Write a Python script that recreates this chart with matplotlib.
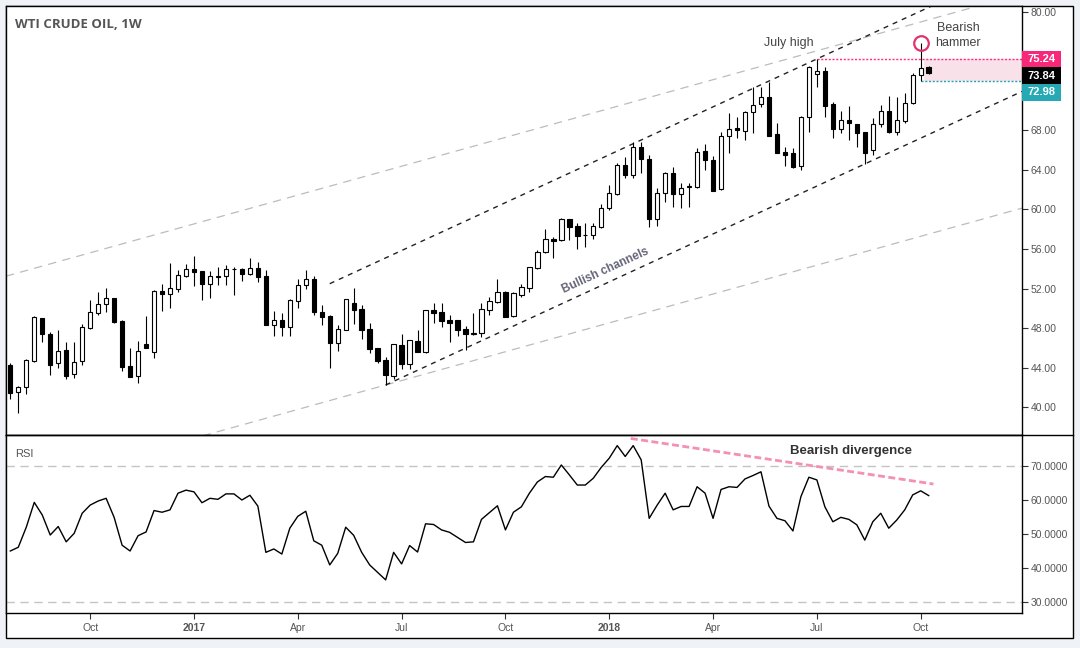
import numpy as np
import pandas as pd
import matplotlib
matplotlib.use("Agg")
import matplotlib.pyplot as plt
from matplotlib.patches import Rectangle
from matplotlib.lines import Line2D

plt.rcParams["font.family"] = ["Liberation Sans", "DejaVu Sans"]
plt.rcParams["lines.scale_dashes"] = False

# ----------------------------------------------------------------------
# --- Data (weekly WTI candles) ---
first_week = "2016-07-25"

opens = [44.25, 41.48, 41.99, 44.66, 49.01, 47.36, 44.42, 45.74, 43.31, 44.66,
         48.03, 49.55, 50.39, 51.00, 48.67, 44.15, 43.10, 46.34, 45.60, 51.71,
         51.48, 51.98, 53.30, 53.94, 53.74, 52.49, 53.21, 53.23, 53.98, 53.94,
         53.44, 54.04, 53.27, 48.34, 48.78, 48.14, 50.77, 52.32, 52.93, 49.66,
         49.22, 46.45, 47.84, 50.54, 49.89, 47.87, 45.94, 44.76, 43.14, 46.25,
         44.32, 46.69, 45.61, 49.83, 49.66, 48.81, 48.81, 47.87, 47.36, 47.53,
         49.82, 50.67, 51.68, 49.25, 51.34, 52.02, 54.11, 55.73, 56.98, 56.92,
         59.04, 58.33, 57.42, 57.42, 58.26, 60.12, 61.54, 64.50, 63.53, 66.33,
         65.08, 59.04, 61.64, 63.66, 61.54, 62.24, 62.31, 65.92, 65.01, 62.04,
         67.44, 68.25, 67.95, 69.91, 70.65, 71.43, 67.61, 65.79, 65.69, 64.44,
         69.33, 73.69, 74.03, 70.65, 68.12, 69.06, 68.62, 67.81, 66.03, 68.62,
         69.97, 67.88, 68.96, 70.75, 73.59, 74.40]
highs = [44.42, 42.13, 44.86, 49.21, 49.05, 47.56, 47.76, 46.55, 46.55, 48.37,
         50.83, 51.61, 52.01, 51.05, 48.77, 45.94, 46.68, 49.21, 51.88, 52.46,
         54.55, 53.87, 54.48, 55.29, 53.81, 53.74, 54.18, 54.38, 54.14, 54.04,
         55.09, 54.65, 53.87, 49.72, 49.52, 50.94, 52.93, 53.87, 53.27, 50.33,
         49.30, 48.27, 50.94, 52.05, 50.33, 48.48, 45.98, 45.10, 46.40, 47.36,
         46.80, 47.80, 49.86, 50.57, 50.50, 49.32, 48.85, 48.20, 49.49, 50.50,
         51.17, 52.93, 51.72, 51.68, 52.46, 54.21, 55.90, 57.99, 57.25, 59.10,
         59.08, 58.60, 58.60, 58.60, 60.56, 62.48, 64.67, 65.35, 66.87, 66.87,
         65.52, 62.14, 63.77, 64.34, 62.72, 62.65, 66.19, 66.63, 65.42, 67.88,
         69.74, 69.40, 70.01, 72.44, 72.44, 72.95, 68.72, 66.30, 66.19, 69.47,
         74.53, 75.24, 74.47, 70.92, 69.97, 70.48, 68.70, 67.85, 69.30, 70.58,
         71.49, 71.36, 71.77, 73.79, 76.90, 74.57]
lows = [40.77, 39.36, 41.28, 44.52, 46.61, 43.20, 43.98, 42.87, 42.97, 44.25,
        47.90, 49.31, 49.65, 48.47, 43.68, 43.00, 42.39, 45.95, 44.99, 49.76,
        50.06, 51.65, 53.20, 52.29, 50.84, 51.07, 52.36, 52.39, 51.38, 52.76,
        53.37, 52.66, 48.30, 47.19, 47.19, 47.19, 50.03, 51.92, 49.32, 48.31,
        43.92, 45.71, 47.80, 48.38, 46.92, 45.44, 44.43, 42.23, 42.81, 43.82,
        43.82, 45.58, 45.44, 48.54, 48.14, 46.62, 47.19, 45.77, 47.30, 47.10,
        49.32, 50.50, 49.12, 49.15, 51.10, 51.68, 53.94, 55.63, 55.05, 56.85,
        56.92, 55.97, 56.24, 56.98, 58.09, 59.95, 61.47, 63.16, 63.16, 63.66,
        58.26, 58.36, 60.79, 60.29, 60.12, 60.29, 62.14, 64.00, 61.85, 62.00,
        65.76, 67.21, 67.04, 67.78, 70.35, 67.40, 65.69, 64.41, 64.20, 64.00,
        67.88, 72.37, 69.40, 67.28, 67.78, 67.04, 66.37, 64.61, 65.52, 68.39,
        67.78, 67.54, 68.72, 70.69, 72.98, 73.69]
closes = [41.38, 41.99, 44.76, 49.11, 47.36, 44.22, 45.70, 43.17, 44.59, 48.07,
          49.58, 50.39, 51.03, 48.57, 44.08, 43.07, 45.63, 46.01, 51.74, 51.48,
          52.02, 53.33, 53.94, 53.71, 52.49, 53.23, 53.24, 53.98, 53.96, 53.44,
          54.04, 53.20, 48.34, 48.78, 48.14, 50.84, 52.36, 52.93, 49.66, 49.15,
          46.52, 47.87, 50.91, 49.86, 47.77, 45.91, 44.70, 43.21, 46.35, 44.32,
          46.75, 45.61, 49.83, 49.56, 48.75, 48.54, 47.80, 47.36, 47.53, 49.89,
          50.70, 51.68, 49.15, 51.58, 52.12, 54.14, 55.66, 56.98, 56.85, 59.04,
          58.26, 57.35, 57.38, 58.36, 60.12, 61.64, 64.47, 63.53, 66.33, 65.08,
          59.04, 61.64, 63.66, 61.54, 62.14, 62.38, 65.79, 65.01, 61.91, 67.44,
          68.12, 68.02, 69.91, 70.58, 71.43, 67.48, 65.76, 65.55, 64.27, 69.33,
          74.40, 73.99, 70.52, 68.15, 69.06, 68.73, 67.78, 65.69, 68.62, 69.94,
          67.85, 69.06, 70.75, 73.59, 74.29, 73.84]
rsi = [45.0, 46.1, 52.0, 59.3, 55.6, 49.7, 52.2, 47.7, 50.2, 56.1,
       58.5, 59.7, 60.5, 54.9, 46.7, 45.0, 49.5, 50.6, 56.9, 56.4,
       57.1, 62.0, 62.9, 62.4, 59.2, 60.5, 60.2, 61.8, 61.8, 60.0,
       61.4, 58.2, 44.6, 45.6, 44.1, 51.7, 55.2, 56.7, 48.0, 46.7,
       40.9, 44.3, 52.0, 49.6, 44.6, 40.9, 38.7, 36.5, 44.6, 41.2,
       46.6, 44.7, 53.0, 52.8, 51.2, 50.5, 49.0, 47.5, 47.7, 54.3,
       56.3, 58.3, 51.2, 56.4, 58.0, 62.0, 65.3, 66.9, 66.7, 70.3,
       67.4, 64.4, 64.4, 66.4, 69.6, 72.3, 76.0, 72.8, 76.0, 71.8,
       54.6, 58.5, 62.0, 57.1, 58.1, 58.1, 63.9, 62.0, 54.6, 63.1,
       63.9, 63.7, 66.2, 67.2, 68.3, 58.2, 54.6, 53.9, 50.9, 61.0,
       66.7, 65.9, 58.0, 53.6, 54.9, 54.3, 52.7, 48.2, 53.6, 56.1,
       51.7, 54.1, 57.1, 61.5, 62.7, 61.3]

price_ticks = [40, 44, 48, 52, 56, 60, 64, 68, 72, 76, 80]
rsi_ticks = [30, 40, 50, 60, 70]

# reference levels
july_high_bar = 101
hammer_bar = 114
july_high = highs[july_high_bar]
hammer_low = lows[hammer_bar]
last_close = closes[-1]

# channel anchors: lower line through two swing lows, upper parallel through July high
chan_low_a, chan_low_b = 47, 107
chan_upper_start = 40
outer_slope = 0.2247      # slope of the wide grey channel, price per week
outer_width = 21.7        # vertical distance between the grey lines

# RSI divergence line (bar index, RSI value)
div_start = (77.7, 78.1)
div_end = (115.6, 64.7)

dates = pd.date_range(first_week, periods=len(closes), freq="W-MON")
idx = np.arange(len(closes))

# ----------------------------------------------------------------------
# --- Layout ---
W, H = 1080, 648
fig = plt.figure(figsize=(W / 100, H / 100), dpi=100)
fig.patch.set_facecolor("#eff2f6")

left, right = 6, 1022
top, sep, bottom = 6, 435, 613
ax = fig.add_axes([left / W, 1 - sep / H, (right - left) / W, (sep - top) / H])
ax_r = fig.add_axes([left / W, 1 - bottom / H, (right - left) / W, (bottom - sep) / H])

fig.add_artist(Rectangle((6 / W, 1 - 638 / H), (1073 - 6) / W, (638 - 6) / H,
                         transform=fig.transFigure, facecolor="white",
                         edgecolor="black", lw=1, zorder=-5))
fig.add_artist(Line2D([6 / W, 1073 / W], [1 - sep / H] * 2, transform=fig.transFigure,
                      color="black", lw=1))

bar_px = 7.986
x0 = -(10.3 - left) / bar_px
x1 = (right - 10.3) / bar_px
for a in (ax, ax_r):
    a.set_xlim(x0, x1)
    a.set_facecolor("white")
    for s in a.spines.values():
        s.set_color("black")
        s.set_linewidth(1)
    a.yaxis.tick_right()
    a.tick_params(axis="y", direction="out", length=4, width=0.8, color="#333333",
                  labelsize=7.5, labelcolor="#555555", pad=2)

ax.set_ylim(37.17, 80.6)
ax_r.set_ylim(26.76, 79.12)

# ----------------------------------------------------------------------
# --- Price panel ---
xs = np.array([x0, x1])
slope = (lows[chan_low_b] - lows[chan_low_a]) / (chan_low_b - chan_low_a)

# wide grey channel
g_low = lows[chan_low_a] + outer_slope * (xs - chan_low_a)
ax.plot(xs, g_low, color="#bcbcbc", lw=0.9, dashes=(6, 4.5), zorder=1)
ax.plot(xs, g_low + outer_width, color="#bcbcbc", lw=0.9, dashes=(6, 4.5), zorder=1)

# black bullish channel
xl = np.array([chan_low_a, x1])
ax.plot(xl, lows[chan_low_a] + slope * (xl - chan_low_a), color="#222222", lw=1,
        dashes=(3.6, 3.6), zorder=1)
xu = np.array([chan_upper_start, x1])
ax.plot(xu, july_high + slope * (xu - july_high_bar), color="#222222", lw=1,
        dashes=(3.6, 3.6), zorder=1)

# hammer zone
body_w = 0.55
ax.fill_between([hammer_bar + 0.45, x1], hammer_low, july_high, color="#f9e1ea",
                lw=0, zorder=0.5)
ax.hlines(july_high, july_high_bar, x1, color="#ff2c82", lw=1, linestyles=(0, (1.5, 1.2)),
          zorder=1.5)
ax.hlines(hammer_low, hammer_bar, x1, color="#1ea6b6", lw=1, linestyles=(0, (1.5, 1.2)),
          zorder=1.5)

# candles
o = np.array(opens)
c = np.array(closes)
up = c >= o
ax.vlines(idx, lows, highs, color="black", lw=0.8, zorder=2)
ax.bar(idx, np.maximum(np.abs(c - o), 0.06), bottom=np.minimum(o, c), width=body_w,
       color=np.where(up, "white", "black"), edgecolor="black", linewidth=0.8, zorder=3)

# annotations
ax.plot(hammer_bar, highs[hammer_bar], marker="o", ms=10.5, mfc="none", mec="#e0336f",
        mew=1.6, zorder=4)
ax.text(97.45, 76.89, "July high", ha="center", va="center", fontsize=9, color="#444444")
ax.text(118.7, 77.62, "Bearish\nhammer", ha="center", va="center", fontsize=9,
        color="#444444", linespacing=1.25)

tx = 74.5
p0 = ax.transData.transform((tx - 5, 0))
p1 = ax.transData.transform((tx + 5, 10 * slope))
angle = np.degrees(np.arctan2(p1[1] - p0[1], p1[0] - p0[0]))
ax.text(tx, lows[chan_low_a] + slope * (tx - chan_low_a) + 1.3, "Bullish channels",
        rotation=angle, rotation_mode="anchor", ha="center", va="center",
        fontsize=8.5, fontweight="bold", color="#66667a")

ax.text((15 - left) / (right - left), 1 - (24 - top) / (sep - top), "WTI CRUDE OIL, 1W",
        transform=ax.transAxes, ha="left", va="center", fontsize=9.5, fontweight="bold",
        color="#555555", family=["Open Sans", "DejaVu Sans"])

ax.set_xticks([])

# price tags on the scale, stacked so they do not overlap
tag_h = 16.7
tags = [(july_high, "#f7277a"), (last_close, "#000000"), (hammer_low, "#26a9b5")]
prev = None
spans = []
for level, col in tags:
    yc = ax.transData.transform((0, level))[1]
    if prev is not None:
        yc = min(yc, prev - tag_h)
    prev = yc
    spans.append((yc - tag_h / 2, yc + tag_h / 2))
    fig.add_artist(Rectangle((right / W, (yc - tag_h / 2) / H), 39 / W, tag_h / H,
                             transform=fig.transFigure, facecolor=col, lw=0, zorder=5))
    fig.text((right + 6) / W, yc / H, f"{level:.2f}", ha="left", va="center",
             fontsize=8, fontweight="bold", color="white", zorder=6)

# scale labels hidden behind the tags are left blank
price_labels = []
for v in price_ticks:
    yv = ax.transData.transform((0, v))[1]
    covered = any(lo - 5 < yv < hi + 5 for lo, hi in spans)
    price_labels.append("" if covered else f"{v:.2f}")
ax.set_yticks(price_ticks)
ax.set_yticklabels(price_labels)

# ----------------------------------------------------------------------
# --- RSI panel ---
ax_r.hlines([70, 30], x0, x1, color="#c4c4c4", lw=1, linestyles=(0, (6, 4)), zorder=1)
ax_r.plot(idx, rsi, color="black", lw=1, zorder=3)
ax_r.plot([div_start[0], div_end[0]], [div_start[1], div_end[1]], color="#f48fb5", lw=2,
          dashes=(5, 2.5), zorder=2)
ax_r.text(105.3, 74.4, "Bearish divergence", ha="center", va="center", fontsize=9.5,
          fontweight="bold", color="#333333")
ax_r.text((15 - left) / (right - left), 1 - (454 - sep) / (bottom - sep), "RSI",
          transform=ax_r.transAxes, ha="left", va="center", fontsize=8, color="#555555")

ax_r.set_yticks(rsi_ticks)
ax_r.set_yticklabels([f"{v:.4f}" for v in rsi_ticks])

# date ticks at the first weekly bar of each quarter month
tick_pos, tick_lab = [], []
for i in range(1, len(dates)):
    d = dates[i]
    if d.month in (1, 4, 7, 10) and d.month != dates[i - 1].month:
        tick_pos.append(i)
        tick_lab.append(str(d.year) if d.month == 1 else d.strftime("%b"))
ax_r.set_xticks(tick_pos)
ax_r.set_xticklabels(tick_lab)
ax_r.tick_params(axis="x", direction="out", length=4, width=0.8, color="#333333",
                 labelsize=7.5, labelcolor="#555555", pad=3)
for lab in ax_r.get_xticklabels():
    if lab.get_text().isdigit():
        lab.set_fontweight("bold")

fig.savefig("out.png", dpi=100, facecolor=fig.get_facecolor())
